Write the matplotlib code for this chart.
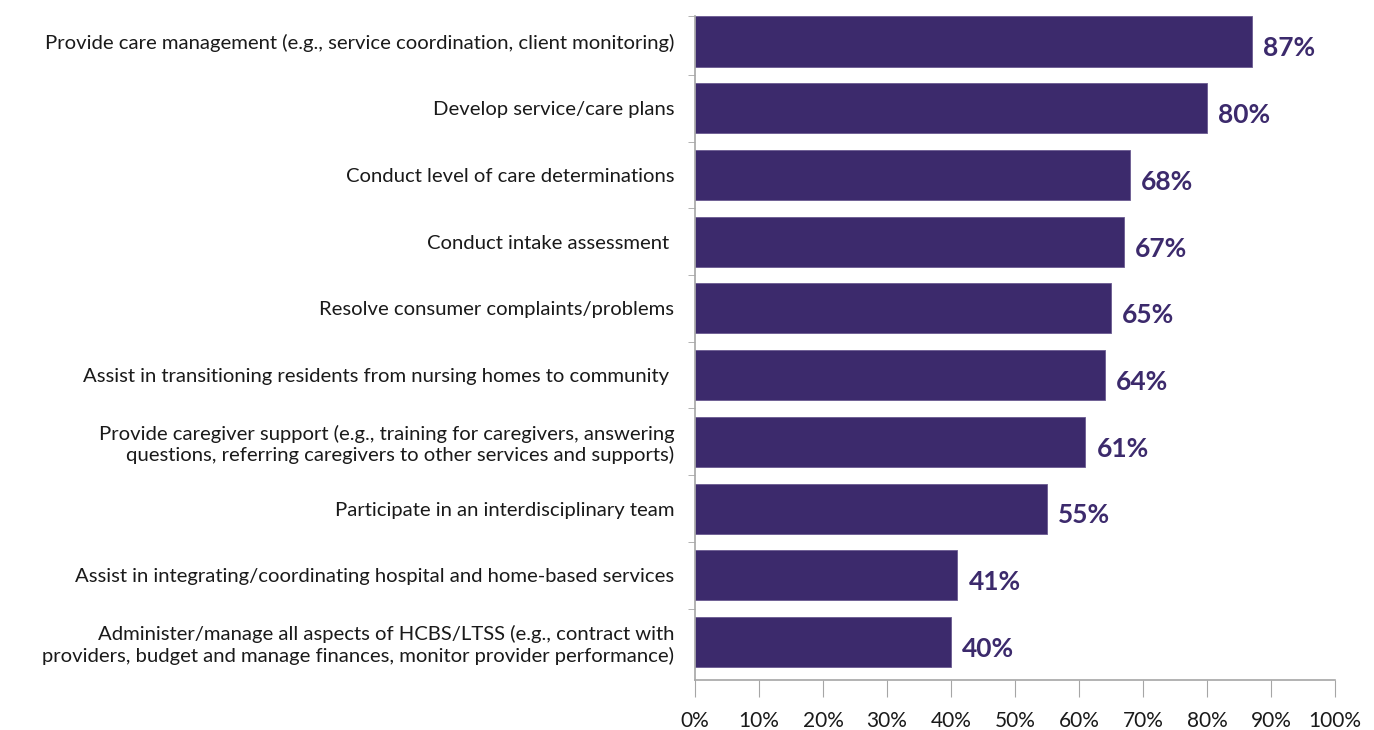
import matplotlib
matplotlib.use("Agg")
import matplotlib.pyplot as plt
import numpy as np

categories = [
    "Provide care management (e.g., service coordination, client monitoring)",
    "Develop service/care plans",
    "Conduct level of care determinations",
    "Conduct intake assessment ",
    "Resolve consumer complaints/problems",
    "Assist in transitioning residents from nursing homes to community ",
    "Provide caregiver support (e.g., training for caregivers, answering\nquestions, referring caregivers to other services and supports)",
    "Participate in an interdisciplinary team",
    "Assist in integrating/coordinating hospital and home-based services",
    "Administer/manage all aspects of HCBS/LTSS (e.g., contract with\nproviders, budget and manage finances, monitor provider performance)",
]
values = [87, 80, 68, 67, 65, 64, 61, 55, 41, 40]
xticks = [0, 10, 20, 30, 40, 50, 60, 70, 80, 90, 100]
xtick_labels = [f"{t}%" for t in xticks]

plt.rcParams['font.family'] = ['Lato', 'DejaVu Sans']

bar_color = "#3C2A6C"
spine_color = "#A6A6A6"

fig = plt.figure(figsize=(13.74, 7.30), dpi=100)
ax = fig.add_axes([695/1374, 50/730, 640/1374, 664/730])

n = len(categories)
y = np.arange(n)
ax.barh(y, values, height=0.75, color=bar_color, edgecolor="#6A5A90", linewidth=0.6)
ax.set_ylim(n - 0.43, -0.382)
ax.set_xlim(0, 100)

ax.set_yticks(y)
ax.set_yticklabels(categories, fontsize=14.6, color="#1a1a1a", ha="right")
ax.tick_params(axis="y", length=0, pad=15)
ax.set_yticks(list(np.arange(0.5, n - 1, 1)) + [-0.382], minor=True)
ax.tick_params(axis="y", which="minor", length=5, color=spine_color, direction="out")

ax.set_xticks(xticks)
ax.set_xticklabels(xtick_labels, fontsize=15, color="#1a1a1a")
ax.tick_params(axis="x", length=12, color=spine_color, pad=10)

for s in ["top", "right"]:
    ax.spines[s].set_visible(False)
for s in ["left", "bottom"]:
    ax.spines[s].set_color(spine_color)
    ax.spines[s].set_linewidth(1.2)

for yi, v in zip(y, values):
    ax.annotate(f"{v}%", xy=(v, yi), xytext=(8, -5), textcoords="offset points",
                ha="left", va="center", fontsize=19, fontweight="bold", color=bar_color)

fig.savefig("out.png", dpi=100)
